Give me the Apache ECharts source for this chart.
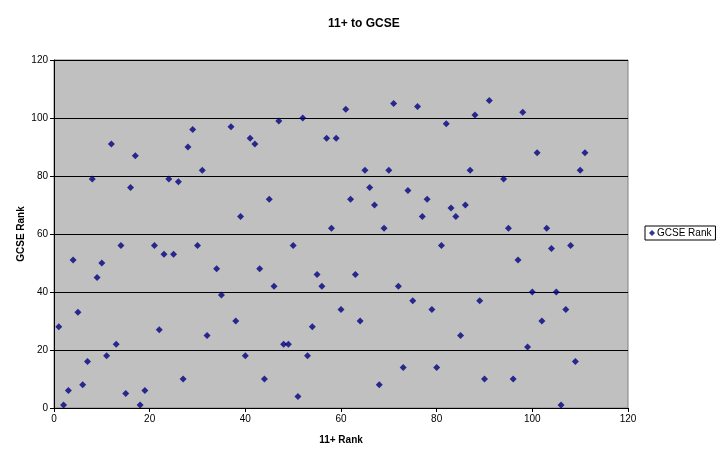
<!DOCTYPE html>
<html>
<head>
<meta charset="utf-8">
<script src="https://cdn.jsdelivr.net/npm/echarts@6/dist/echarts.min.js"></script>
<style>
html,body{margin:0;padding:0;background:#fff;}
#chart{width:723px;height:462px;}
</style>
</head>
<body>
<div id="chart"></div>
<script>
var elevenPlusRank = [1,2,3,4,5,6,7,8,9,10,11,12,13,14,15,16,17,18,19,21,22,23,24,25,26,27,28,29,30,31,32,34,35,37,38,39,40,41,42,43,44,45,46,47,48,49,50,51,52,53,54,55,56,57,58,59,60,61,62,63,64,65,66,67,68,69,70,71,72,73,74,75,76,77,78,79,80,81,82,83,84,85,86,87,88,89,90,91,94,95,96,97,98,99,100,101,102,103,104,105,106,107,108,109,110,111];
var gcseRank = [28,1,6,51,33,8,16,79,45,50,18,91,22,56,5,76,87,1,6,56,27,53,79,53,78,10,90,96,56,82,25,48,39,97,30,66,18,93,91,48,10,72,42,99,22,22,56,4,100,18,28,46,42,93,62,93,34,103,72,46,30,82,76,70,8,62,82,105,42,14,75,37,104,66,72,34,14,56,98,69,66,25,70,82,101,37,10,106,79,62,10,51,102,21,40,88,30,62,55,40,1,34,56,16,82,88];
var axisTicks = [0,20,40,60,80,100,120];

var points = elevenPlusRank.map(function(x,i){return [x,gcseRank[i]];});
var font = 'Arial, "Liberation Sans", sans-serif';
var chart = echarts.init(document.getElementById('chart'), null, {renderer:'canvas'});
chart.setOption({
  animation:false,
  backgroundColor:'#ffffff',
  title:{
    text:'11+ to GCSE',
    left:323, top:13,
    textStyle:{fontFamily:font,fontSize:12,fontWeight:'bold',color:'#000'}
  },
  grid:{
    left:54, right:95, top:60, bottom:54,
    show:true, backgroundColor:'#C0C0C0', borderColor:'#808080', borderWidth:1
  },
  legend:{
    left:645, top:226,
    orient:'vertical',
    backgroundColor:'#fff',
    borderColor:'#000', borderWidth:1, borderRadius:0,
    padding:[2,4,2,4],
    itemWidth:6, itemHeight:6, itemGap:2,
    textStyle:{fontFamily:font,fontSize:10,color:'#000',padding:[0,0,0,-3]},
    data:[{name:'GCSE Rank',icon:'diamond'}]
  },
  xAxis:{
    type:'value', min:axisTicks[0], max:axisTicks[axisTicks.length-1], interval:20,
    name:'11+ Rank', nameLocation:'middle', nameGap:27, nameMoveOverlap:false,
    nameTextStyle:{fontFamily:font,fontSize:10,fontWeight:'bold',color:'#000'},
    axisLine:{show:true,onZero:false,lineStyle:{color:'#000',width:1}},
    axisTick:{show:true,length:4,lineStyle:{color:'#000'}},
    axisLabel:{fontFamily:font,fontSize:10,color:'#000',margin:6},
    splitLine:{show:false}
  },
  yAxis:{
    type:'value', min:axisTicks[0], max:axisTicks[axisTicks.length-1], interval:20,
    name:'GCSE Rank', nameLocation:'middle', nameGap:28, nameMoveOverlap:false,
    nameTextStyle:{fontFamily:font,fontSize:10,fontWeight:'bold',color:'#000'},
    axisLine:{show:true,onZero:false,lineStyle:{color:'#000',width:1}},
    axisTick:{show:true,length:4,lineStyle:{color:'#000'}},
    axisLabel:{fontFamily:font,fontSize:10,color:'#000',margin:6},
    splitLine:{show:true,lineStyle:{color:'#000',width:1}}
  },
  series:[{
    name:'GCSE Rank',
    type:'scatter',
    symbol:'diamond',
    symbolSize:7,
    itemStyle:{color:'#000080'},
    data:points
  }]
});
</script>
</body>
</html>
